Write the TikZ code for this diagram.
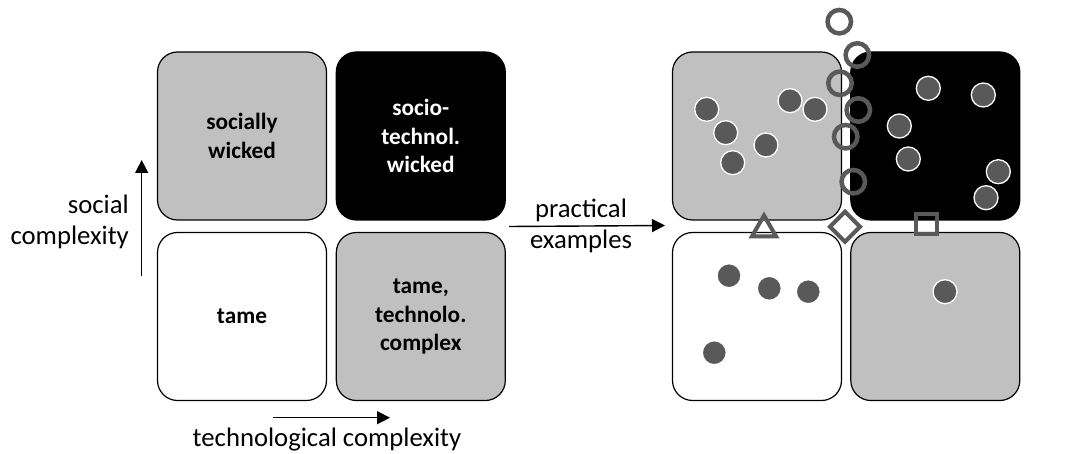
\documentclass[tikz,border=0pt]{standalone}
\usepackage{fontspec}
\setmainfont{Carlito}
\usetikzlibrary{arrows.meta}
\definecolor{lgray}{HTML}{C0C0C0}
\definecolor{dgray}{HTML}{595959}
\begin{document}
\begin{tikzpicture}[x=1pt,y=-1pt,
  box/.style={draw=black, line width=1.2pt, rounded corners=20pt,
    minimum width=169pt, minimum height=168pt, inner sep=0pt, align=center,
    font=\fontsize{23.3}{28.4}\selectfont\bfseries},
  lbl/.style={inner sep=0pt, align=center, font=\fontsize{26.7}{31.5}\selectfont},
  arr/.style={line width=1.4pt, -{Triangle[length=13pt,width=13pt]}},
  dot/.style={circle, fill=dgray, draw=white, line width=1.3pt, minimum size=24pt, inner sep=0pt},
  ring/.style={circle, draw=dgray, line width=4.5pt, minimum size=23.5pt, inner sep=0pt},
  symb/.style={draw=dgray, line width=4pt, line join=miter}
]
\useasboundingbox (0,0) rectangle (1074,454);
% left matrix
\node[box, fill=lgray] (sw) at (242,136) {socially\\wicked};
\node[box, fill=black, text=white] (stw) at (420.8,136) {socio-\\technol.\\wicked};
\node[box, fill=white] (tm) at (242,316.5) {tame};
\node[box, fill=lgray] (ttc) at (420.8,316.5) {tame,\\technolo.\\complex};
% axes
\coordinate (va) at (141.7,276);
\coordinate (vb) at (141.7,160);
\draw[arr] (va) -- (vb);
\node[lbl, anchor=east, align=right] (sc) at (129,222) {social\\complexity};
\coordinate (ha) at (273,417.7);
\coordinate (hb) at (390,417.7);
\draw[arr] (ha) -- (hb);
\node[lbl] (tc) at (327,440) {technological complexity};
% practical examples
\coordinate (pa) at (509,226.5);
\coordinate (pb) at (665,225.5);
\draw[arr] (pa) -- (pb);
\node[lbl] (pe) at (581,226) {practical\\examples};
% right matrix
\node[box, fill=lgray] (rsw) at (757,136) {};
\node[box, fill=black] (rstw) at (935.3,136) {};
\node[box, fill=white] (rtm) at (757,316.5) {};
\node[box, fill=lgray] (rttc) at (935.3,316.5) {};
% dots socially wicked
\node[dot] (a1) at (706.7,109.3) {};
\node[dot] (a2) at (725.7,132.7) {};
\node[dot] (a3) at (732.7,162.7) {};
\node[dot] (a4) at (766,145) {};
\node[dot] (a5) at (790,100.7) {};
\node[dot] (a6) at (815,109.3) {};
% dots socio-technical wicked
\node[dot] (b1) at (928.3,88.3) {};
\node[dot] (b2) at (983.3,95) {};
\node[dot] (b3) at (899.3,126) {};
\node[dot] (b4) at (908.3,159) {};
\node[dot] (b5) at (998.3,171.7) {};
\node[dot] (b6) at (986,197.7) {};
% dots tame
\node[dot] (c1) at (729,275.7) {};
\node[dot] (c2) at (769.3,288.3) {};
\node[dot] (c3) at (808.3,291.7) {};
\node[dot] (c4) at (714.3,352.7) {};
% dot tame technological complex
\node[dot] (d1) at (945,291.7) {};
% rings
\node[ring] (r1) at (839.3,21.7) {};
\node[ring] (r2) at (857.3,55) {};
\node[ring] (r3) at (840,83.3) {};
\node[ring] (r4) at (858.3,110) {};
\node[ring] (r5) at (845.7,136.7) {};
\node[ring] (r6) at (853.3,181.7) {};
% symbols
\draw[symb] (764,215.5) -- (776,236.3) -- (752,236.3) -- cycle;
\draw[symb] (845,211.8) -- (860,226.8) -- (845,241.8) -- (830,226.8) -- cycle;
\draw[symb] (916.2,213.7) rectangle (937.2,234);
\end{tikzpicture}
\end{document}
